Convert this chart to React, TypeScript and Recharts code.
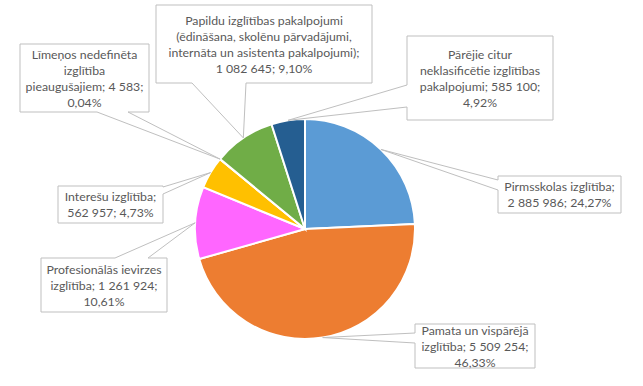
import { Cell, Pie, PieChart } from 'recharts';

const NAMES = [
    'Pirmsskolas izglītība',
    'Pamata un vispārējā izglītība',
    'Profesionālās ievirzes izglītība',
    'Interešu izglītība',
    'Līmeņos nedefinēta izglītība pieaugušajiem',
    'Papildu izglītības pakalpojumi (ēdināšana, skolēnu pārvadājumi, internāta un asistenta pakalpojumi)',
    'Pārējie citur neklasificētie izglītības pakalpojumi',
];

const VALUES = [2885986, 5509254, 1261924, 562957, 4583, 1082645, 585100];

const COLORS = ['#5B9BD5', '#ED7D31', '#FF66FF', '#FFC000', '#A5A5A5', '#70AD47', '#255E91'];

const LABEL_LINES = [
    ['Pirmsskolas izglītība;', '2 885 986; 24,27%'],
    ['Pamata un vispārējā', 'izglītība; 5 509 254;', '46,33%'],
    ['Profesionālās ievirzes', 'izglītība; 1 261 924;', '10,61%'],
    ['Interešu izglītība;', '562 957; 4,73%'],
    ['Līmeņos nedefinēta', 'izglītība', 'pieaugušajiem; 4 583;', '0,04%'],
    ['Papildu izglītības pakalpojumi', '(ēdināšana, skolēnu pārvadājumi,', 'internāta un asistenta pakalpojumi);', '1 082 645; 9,10%'],
    ['Pārējie citur', 'neklasificētie izglītības', 'pakalpojumi; 585 100;', '4,92%'],
];

type Side = 'top' | 'right' | 'bottom' | 'left';

// callout box placement: rect + which edge the wedge leaves from (a < b along that edge)
const CALLOUTS: { x: number; y: number; w: number; h: number; side: Side; a: number; b: number }[] = [
    { x: 498, y: 176, w: 123, h: 37, side: 'left', a: 180, b: 190 },
    { x: 415, y: 324, w: 120, h: 44, side: 'left', a: 333, b: 343 },
    { x: 41, y: 258, w: 126, h: 54, side: 'top', a: 115, b: 148 },
    { x: 58, y: 186, w: 105, h: 37, side: 'right', a: 187, b: 194 },
    { x: 20, y: 44, w: 129, h: 68, side: 'bottom', a: 97, b: 128 },
    { x: 156, y: 5, w: 216, h: 78, side: 'bottom', a: 192, b: 246 },
    { x: 407, y: 36, w: 146, h: 84, side: 'left', a: 85, b: 107 },
];

const data = NAMES.map((name, i) => ({ name, value: VALUES[i] }));

const RAD = Math.PI / 180;

function calloutPath(c: (typeof CALLOUTS)[number], tx: number, ty: number) {
    const { x, y, w, h, side, a, b } = c;
    const r = x + w;
    const btm = y + h;
    const pts: [number, number][] = [[x, y]];
    if (side === 'top') pts.push([a, y], [tx, ty], [b, y]);
    pts.push([r, y]);
    if (side === 'right') pts.push([r, a], [tx, ty], [r, b]);
    pts.push([r, btm]);
    if (side === 'bottom') pts.push([b, btm], [tx, ty], [a, btm]);
    pts.push([x, btm]);
    if (side === 'left') pts.push([x, b], [tx, ty], [x, a]);
    return 'M' + pts.map((p) => `${p[0]},${p[1]}`).join('L') + 'Z';
}

function renderCallout(props: any) {
    const { cx, cy, midAngle, outerRadius, index } = props;
    const c = CALLOUTS[index];
    const lines = LABEL_LINES[index];
    const tx = cx + outerRadius * Math.cos(-midAngle * RAD);
    const ty = cy + outerRadius * Math.sin(-midAngle * RAD);
    const lh = 16;
    const midY = c.y + c.h / 2;
    const firstY = midY - ((lines.length - 1) * lh) / 2;
    return (
        <g key={`callout-${index}`}>
            <path d={calloutPath(c, tx, ty)} fill="#fff" stroke="#BFBFBF" strokeWidth={1} />
            <text x={c.x + c.w / 2} textAnchor="middle" fill="#595959" fontSize={12.3} fontFamily="Lato, 'Open Sans', sans-serif">
                {lines.map((ln, i) => (
                    <tspan key={i} x={c.x + c.w / 2} y={firstY + i * lh} dominantBaseline="central">
                        {ln}
                    </tspan>
                ))}
            </text>
        </g>
    );
}

export default function App() {
    return (
        <div style={{ position: 'absolute', left: 0, top: 0, width: 643, height: 386, background: '#fff' }}>
            <PieChart width={643} height={386} margin={{ top: 0, right: 0, bottom: 0, left: 0 }}>
                <Pie
                    data={data}
                    dataKey="value"
                    nameKey="name"
                    cx={305}
                    cy={229}
                    outerRadius={110}
                    startAngle={90}
                    endAngle={-270}
                    stroke="#fff"
                    strokeWidth={2}
                    label={renderCallout}
                    labelLine={false}
                    isAnimationActive={false}
                >
                    {data.map((d, i) => (
                        <Cell key={d.name} fill={COLORS[i]} />
                    ))}
                </Pie>
            </PieChart>
        </div>
    );
}
